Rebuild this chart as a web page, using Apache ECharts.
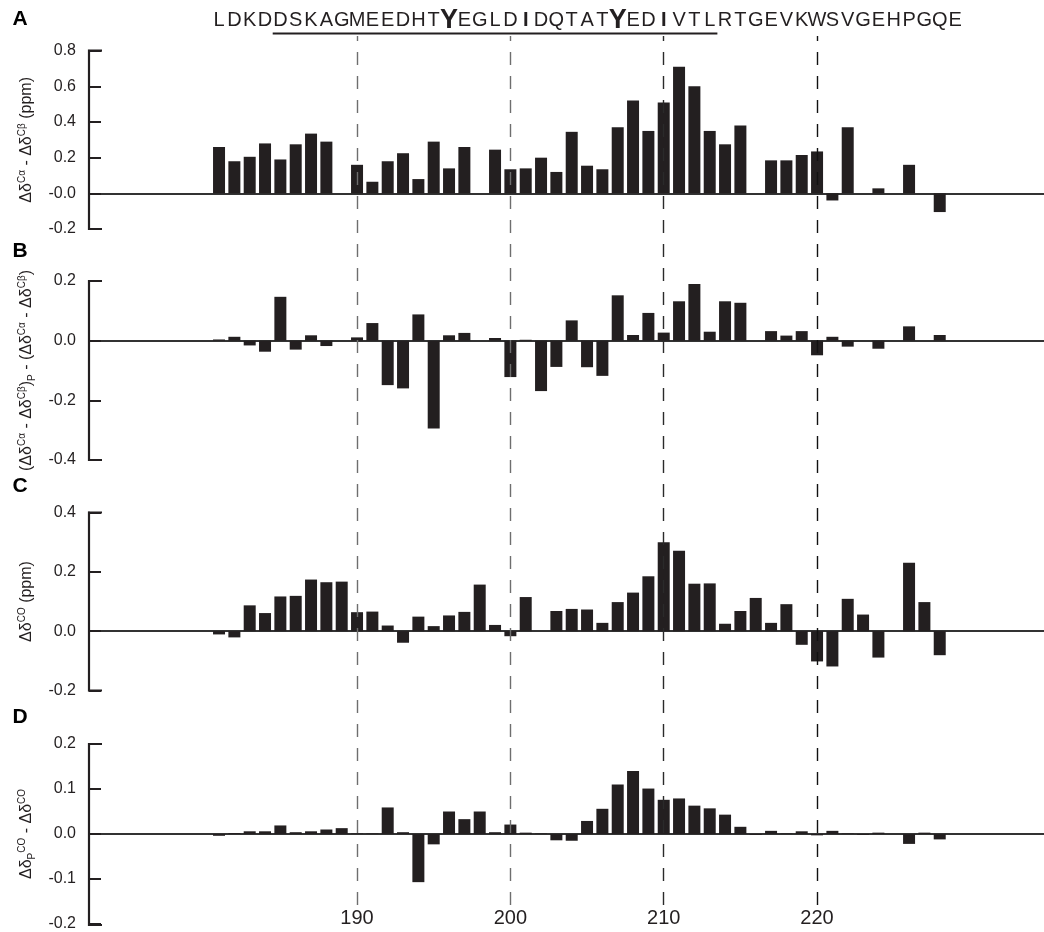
<!DOCTYPE html>
<html>
<head>
<meta charset="utf-8">
<script src="https://cdn.jsdelivr.net/npm/echarts@6/dist/echarts.min.js"></script>
<style>
html,body{margin:0;padding:0;background:#fff;}
#chart{width:1044px;height:932px;}
</style>
</head>
<body>
<div id="chart"></div>
<script>
// ---------- data ----------
const residues = [181,182,183,184,185,186,187,188,189,190,191,192,193,194,195,196,197,198,199,200,201,202,203,204,205,206,207,208,209,210,211,212,213,214,215,216,217,218,219,220,221,222,223,224,225,226,227,228];

const panelA = [0.26,0.18,0.205,0.28,0.19,0.275,0.335,0.29,null,0.16,0.065,0.18,0.225,0.08,0.29,0.14,0.26,null,0.245,0.135,0.14,0.20,0.12,0.345,0.155,0.135,0.37,0.52,0.35,0.51,0.71,0.60,0.35,0.275,0.38,null,0.185,0.185,0.215,0.235,-0.04,0.37,null,0.028,null,0.16,null,-0.105];

const panelB = [0.004,0.013,-0.016,-0.037,0.147,-0.03,0.018,-0.018,null,0.011,0.059,-0.149,-0.16,0.088,-0.294,0.018,0.026,null,0.009,-0.122,0.003,-0.169,-0.088,0.068,-0.089,-0.118,0.152,0.019,0.093,0.027,0.132,0.19,0.03,0.132,0.127,null,0.032,0.017,0.032,-0.049,0.013,-0.02,null,-0.027,null,0.048,null,0.019];

const panelC = [-0.011,-0.021,0.087,0.061,0.117,0.119,0.174,0.165,0.167,0.064,0.066,0.019,-0.039,0.049,0.017,0.053,0.065,0.157,0.021,-0.017,0.115,null,0.068,0.075,0.073,0.028,0.098,0.13,0.185,0.30,0.271,0.16,0.161,0.025,0.068,0.112,0.028,0.091,-0.046,-0.102,-0.119,0.109,0.056,-0.089,null,0.231,0.098,-0.081];

const panelD = [-0.004,0.002,0.006,0.006,0.019,0.004,0.006,0.010,0.013,0.001,0.001,0.059,0.004,-0.107,-0.023,0.05,0.033,0.05,0.004,0.021,0.003,0.001,-0.014,-0.015,0.029,0.056,0.11,0.14,0.101,0.076,0.079,0.063,0.057,0.043,0.016,-0.002,0.007,0.001,0.006,-0.003,0.007,0.001,-0.002,0.003,null,-0.022,0.003,-0.012];

const xTickLabels = [190, 200, 210, 220];
const sequence = "LDKDDSKAGMEEDHTYEGLDIDQTATYEDIVTLRTGEVKWSVGEHPGQE";
const seqStart = 181;
const bigResidues = [196, 207];      // large bold Y
const boldResidues = [201, 210];     // bold I
const underlineRange = [185, 213];
const panelLetters = ['A','B','C','D'];

const yRanges = [
  {min:-0.2, max:0.8, interval:0.2},
  {min:-0.4, max:0.2, interval:0.2},
  {min:-0.2, max:0.4, interval:0.2},
  {min:-0.2, max:0.2, interval:0.1}
];

// ---------- layout ----------
const INK = '#231f20';
const FONT = '"Liberation Sans", Arial, sans-serif';
const XMIN = 172.52, XMAX = 234.8;
const AXIS_X = 89;
const grids = [
  {left:AXIS_X, right:0, top:50.7, height:178.3},
  {left:AXIS_X, right:0, top:281, height:179},
  {left:AXIS_X, right:0, top:512.5, height:178},
  {left:AXIS_X, right:0, top:744, height:181},
  {left:AXIS_X, right:0, top:36, height:869}   // overlay for dashed reference lines
];

const sup = {fontSize:10, verticalAlign:'top', lineHeight:10, fontFamily:FONT, color:INK};
const sub = {fontSize:10, verticalAlign:'bottom', lineHeight:10, fontFamily:FONT, color:INK};
const richBase = {sup, sub};
const names = [
  'Δδ{sup|Cα} - Δδ{sup|Cβ} (ppm)',
  '(Δδ{sup|Cα} - Δδ{sup|Cβ}){sub|P} - (Δδ{sup|Cα} - Δδ{sup|Cβ})',
  'Δδ{sup|CO} (ppm)',
  'Δδ{sub|P}{sup|CO} - Δδ{sup|CO}'
];

const panels = [panelA, panelB, panelC, panelD];

const xAxes = [], yAxes = [], series = [];
for (let i = 0; i < 4; i++) {
  xAxes.push({
    gridIndex:i, type:'value', min:XMIN, max:XMAX, position:'bottom',
    axisLine:{show:true, onZero:true, lineStyle:{color:'#333', width:2}},
    axisTick:{show:false}, axisLabel:{show:false}, splitLine:{show:false}
  });
  const r = yRanges[i];
  yAxes.push({
    gridIndex:i, type:'value', min:r.min, max:r.max, interval:r.interval, position:'left',
    axisLine:{show:true, onZero:false, lineStyle:{color:INK, width:2}},
    axisTick:{show:true, inside:true, length:12, lineStyle:{color:INK, width:2}},
    axisLabel:{margin:13, fontSize:16, color:INK, fontFamily:FONT,
      formatter: (v) => {
        const s = (Math.round(v*100)/100).toFixed(1);
        if (i === 0 && Math.abs(v) < 1e-9) return '-0.0';
        return s === '-0.0' ? '0.0' : s;
      }},
    splitLine:{show:false},
    name:names[i], nameLocation:'middle', nameRotate:90, nameGap:52,
    nameTextStyle:{fontSize:16, color:INK, fontFamily:FONT, lineHeight:20, rich:richBase}
  });
  series.push({
    type:'bar', xAxisIndex:i, yAxisIndex:i, barWidth:12, z:3,
    itemStyle:{color:INK},
    data: residues.map((x, k) => [x, panels[i][k]]).filter(d => d[1] !== null),
    animation:false
  });
}
// overlay axes
xAxes.push({gridIndex:4, type:'value', min:XMIN, max:XMAX, show:false});
yAxes.push({gridIndex:4, type:'value', min:0, max:1, show:false});
const dashColors = ['#6e6e6e','#6e6e6e','#2a2a2a','#111'];
series.push({
  type:'scatter', xAxisIndex:4, yAxisIndex:4, data:[], z:1, silent:true, animation:false,
  markLine:{
    silent:true, symbol:['none','none'], animation:false,
    data: xTickLabels.map((v, k) => [
      {coord:[v, 0], lineStyle:{color:dashColors[k], width:1.4, type:[13,11]},
       label:{show:true, position:'start', distance:3, formatter:String(v),
              fontSize:20, color:INK, fontFamily:FONT}},
      {coord:[v, 1]}
    ])
  }
});

const chart = echarts.init(document.getElementById('chart'), null, {renderer:'canvas'});
chart.setOption({
  backgroundColor:'#fff',
  animation:false,
  grid: grids,
  xAxis: xAxes,
  yAxis: yAxes,
  series: series
});

// ---------- sequence, axis spines & panel letters ----------
const graphics = [];
const seqY = 20;
for (let i = 0; i < sequence.length; i++) {
  const res = seqStart + i;
  const px = chart.convertToPixel({xAxisIndex:4}, res);
  const big = bigResidues.includes(res);
  const bold = boldResidues.includes(res);
  graphics.push({
    type:'text', x:px, y: big ? seqY + 1 : seqY,
    style:{text:sequence[i], fill:INK, align:'center', verticalAlign:'middle',
      font:(big ? 'bold 27px ' : (bold ? 'bold 20px ' : '20px ')) + FONT}
  });
}
const u0 = chart.convertToPixel({xAxisIndex:4}, underlineRange[0] - 0.5);
const u1 = chart.convertToPixel({xAxisIndex:4}, underlineRange[1] + 0.5);
graphics.push({type:'line', shape:{x1:u0, y1:33.5, x2:u1, y2:33.5}, style:{stroke:INK, lineWidth:1.8}});
// y-axis spines: polyline bracket (top tick, spine, bottom tick) from axis scale positions
for (let i = 0; i < 4; i++) {
  const yTop = grids[i].top;
  const yBot = grids[i].top + grids[i].height;
  graphics.push({type:'polyline', zlevel:2, z:100, silent:true,
    shape:{points:[[AXIS_X + 13, yTop], [AXIS_X, yTop], [AXIS_X, yBot], [AXIS_X + 13, yBot]]},
    style:{stroke:INK, lineWidth:2.2, fill:null}});
}
const letterY = [19, 251, 486, 717];
panelLetters.forEach((t, k) => {
  graphics.push({type:'text', x:20, y:letterY[k],
    style:{text:t, fill:'#000', align:'center', verticalAlign:'middle', font:'bold 21px ' + FONT}});
});
chart.setOption({graphic: graphics});
</script>
</body>
</html>
